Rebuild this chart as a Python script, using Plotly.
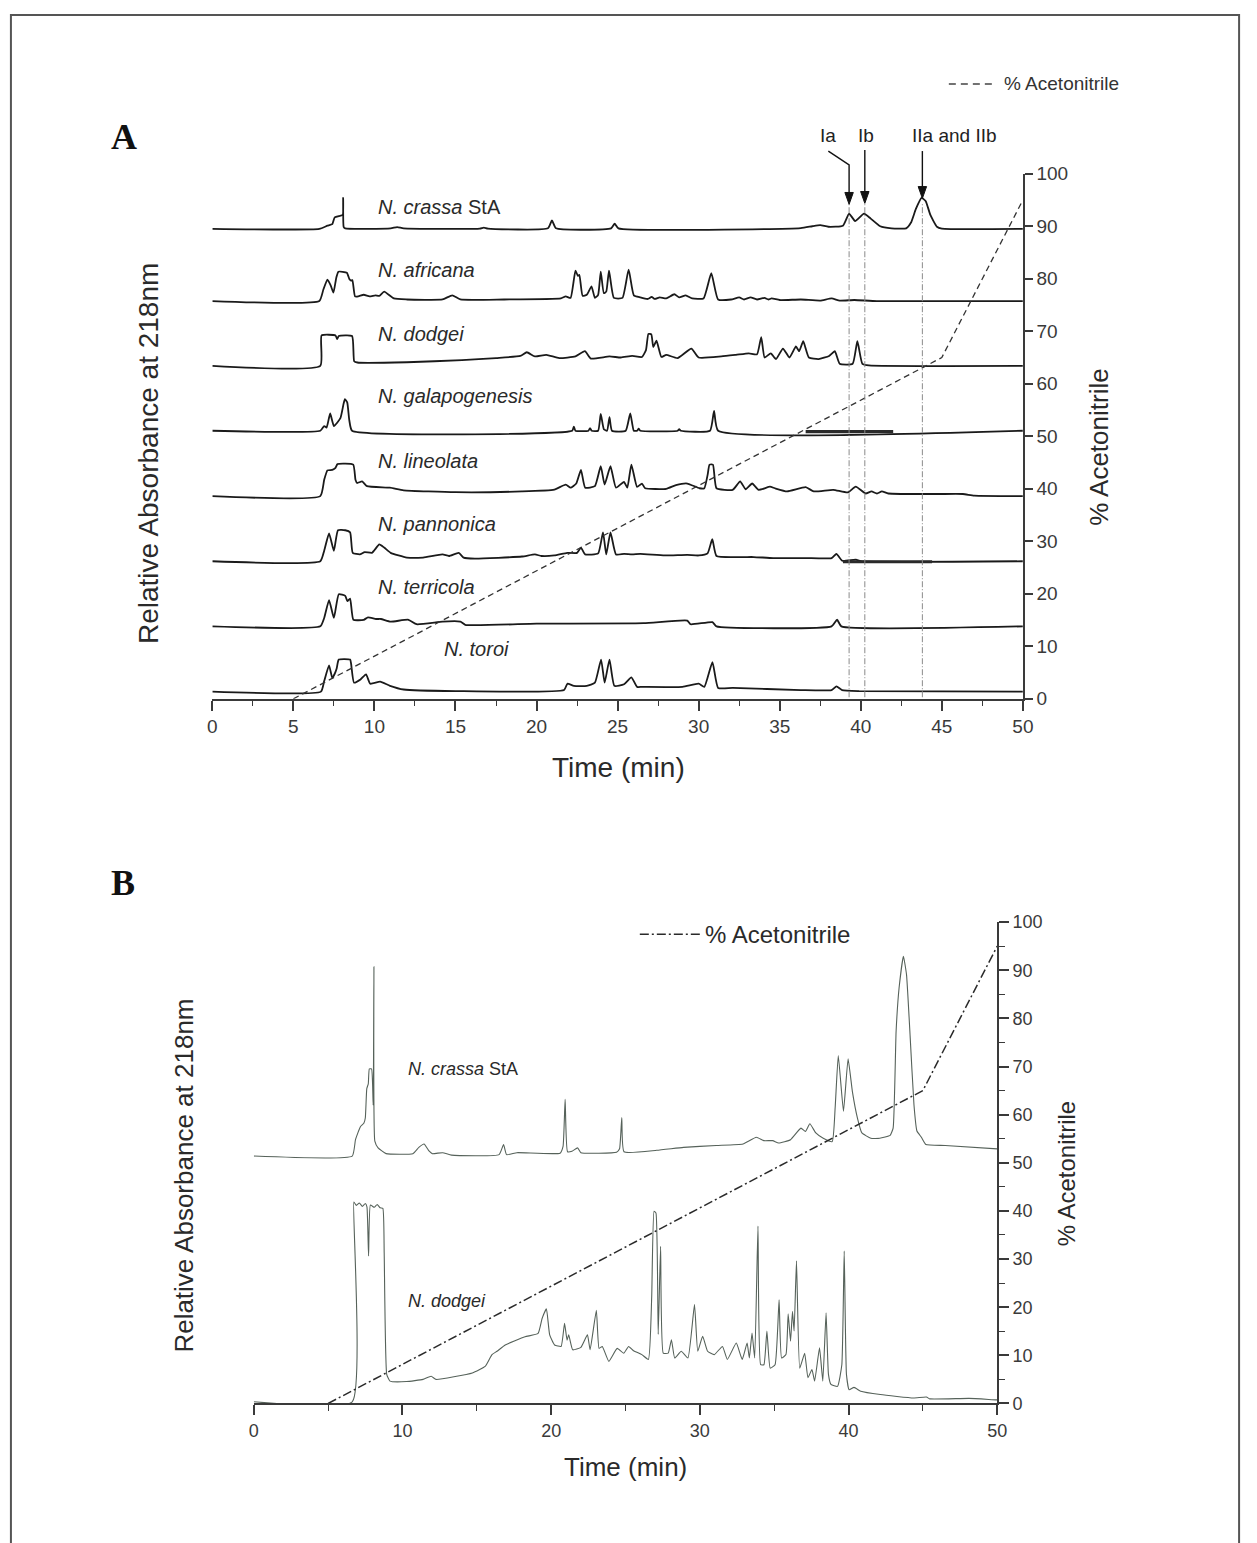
import plotly.graph_objects as go

W, H = 1257, 1543

# ---------------- Panel A: stacked chromatograms (time min, relative absorbance) ----------------
SPECIES_A = ["<i>N. crassa</i> StA", "<i>N. africana</i>", "<i>N. dodgei</i>", "<i>N. galapogenesis</i>",
             "<i>N. lineolata</i>", "<i>N. pannonica</i>", "<i>N. terricola</i>", "<i>N. toroi</i>"]
OFFSETS_A = [89.5, 75.75, 63.4, 51.05, 38.6, 26.2, 13.8, 1.37]

CRASSA_A = [(0, 0), (6.6, 0), (7.1, 0.6), (7.4, 0.9), (7.55, 2.2), (7.9, 2.5), (8.05, 2.7), (8.07, 5.9),
            (8.1, 0.4), (8.2, 0.1), (11.0, 0.1), (11.4, 0.35), (11.8, 0.1), (16.5, 0.05), (16.75, 0.25),
            (17.0, 0.05), (20.7, 0.1), (20.95, 1.6), (21.2, 0.1), (24.6, 0.1), (24.82, 1.0), (25.05, 0.1),
            (36.3, 0.15), (37.0, 0.5), (37.5, 0.7), (38.0, 0.4), (38.9, 0.6), (39.28, 2.9), (39.65, 1.5),
            (40.2, 2.9), (40.6, 2.0), (41.2, 0.5), (41.9, 0.1), (42.8, 0.1), (43.1, 1.2), (43.4, 3.8),
            (43.75, 5.9), (44.0, 5.3), (44.3, 2.6), (44.7, 0.4), (45.0, 0.05), (50, 0)]

AFRICANA_A = [(0, 0), (6.6, 0), (6.85, 2.2), (7.1, 4.1), (7.3, 3.0), (7.47, 1.6), (7.65, 4.5), (7.78, 5.6),
              (8.3, 5.4), (8.45, 4.2), (8.55, 3.9), (8.64, 4.0), (8.8, 0.9), (9.0, 0.9), (9.34, 1.2),
              (9.7, 0.9), (10.06, 1.1), (10.3, 1.0), (10.6, 1.8), (11.2, 0.5), (12.0, 0.3), (14.2, 0.3),
              (14.8, 1.1), (15.3, 0.3), (18.0, 0.3), (21.5, 0.5), (21.8, 0.9), (22.1, 0.6), (22.4, 5.8),
              (22.55, 4.8), (22.64, 5.0), (22.84, 1.0), (23.1, 1.2), (23.39, 2.8), (23.6, 0.6), (23.8, 1.2),
              (23.96, 5.6), (24.15, 1.5), (24.3, 1.8), (24.47, 5.8), (24.77, 0.6), (25.3, 0.6), (25.68, 6.0),
              (26.0, 1.1), (26.4, 0.7), (26.86, 0.4), (27.1, 0.8), (27.3, 0.4), (27.6, 0.7), (28.0, 0.5),
              (28.5, 1.3), (28.8, 0.7), (29.2, 1.1), (29.6, 0.5), (30.3, 0.5), (30.78, 5.3), (31.2, 0.3),
              (32.0, 0.3), (32.5, 0.7), (32.8, 0.3), (33.2, 0.7), (33.6, 0.3), (34.06, 0.6), (34.3, 0.3),
              (34.5, 0.5), (35.0, 0.2), (36.3, 0.3), (37.5, 0.1), (38.2, 0.5), (38.7, 0.1), (39.6, 0.2),
              (41.0, 0.0), (50, 0)]

DODGEI_A = [(0, 0), (6.66, 0), (6.74, 5.8), (7.6, 5.8), (7.7, 5.1), (7.8, 5.7), (8.62, 5.7), (8.75, 0.9),
            (8.95, 0.65), (12.0, 0.7), (15.4, 1.1), (17.5, 1.5), (19.0, 1.9), (19.4, 2.6), (19.9, 1.8),
            (20.6, 2.1), (21.4, 1.5), (22.4, 1.8), (22.98, 2.8), (23.35, 1.4), (24.5, 1.8), (25.2, 1.6),
            (25.9, 1.9), (26.5, 1.7), (26.75, 3.0), (26.9, 6.1), (27.08, 6.0), (27.2, 3.6), (27.4, 4.8),
            (27.7, 1.7), (28.0, 2.1), (28.7, 1.5), (29.55, 3.3), (30.0, 1.6), (31.4, 1.8), (32.3, 2.1),
            (33.1, 2.4), (33.6, 2.2), (33.86, 5.5), (34.07, 1.6), (34.45, 2.4), (34.77, 1.3), (35.2, 3.3),
            (35.6, 1.6), (36.0, 3.7), (36.2, 2.8), (36.45, 4.7), (36.8, 1.6), (37.4, 1.3), (38.05, 1.9),
            (38.4, 2.8), (38.7, 0.4), (39.5, 0.4), (39.79, 4.7), (40.1, 0.4), (40.5, 0.1), (50, 0)]

GALAP_A = [(0, 0), (6.66, 0), (6.9, 0.9), (7.05, 0.6), (7.27, 3.3), (7.5, 0.9), (7.9, 2.4), (8.1, 5.2),
           (8.18, 6.0), (8.32, 5.4), (8.45, 2.0), (8.62, 0), (22.2, 0), (22.3, 0.8), (22.4, 0), (23.2, 0),
           (23.3, 0.5), (23.4, 0), (23.8, 0), (23.96, 3.2), (24.15, 0.3), (24.35, 0), (24.5, 2.6),
           (24.65, 0), (25.5, 0), (25.78, 3.3), (26.0, 0), (26.2, 0), (26.3, 0.4), (26.4, 0), (28.7, 0),
           (28.8, 0.3), (28.9, 0), (30.7, 0), (30.95, 3.8), (31.2, 0), (50, 0)]
GALAP_SEG_A = [(36.6, -0.15), (42.0, -0.15)]

LINEOLATA_A = [(0, 0), (6.66, 0), (6.9, 3.1), (7.1, 4.9), (7.4, 5.0), (7.6, 5.4), (7.72, 6.1), (8.69, 6.0),
               (8.83, 3.1), (8.93, 2.5), (9.24, 2.8), (9.54, 1.9), (10.96, 1.6), (11.8, 1.1), (15.0, 0.75),
               (19.1, 0.9), (21.1, 1.25), (21.8, 2.2), (22.1, 1.6), (22.45, 2.4), (22.74, 5.0), (23.0, 1.6),
               (23.6, 1.9), (23.96, 5.7), (24.2, 2.2), (24.56, 5.7), (24.9, 1.6), (25.39, 2.7), (25.6, 1.6),
               (25.85, 6.0), (26.2, 1.75), (26.5, 2.4), (26.7, 1.5), (28.0, 1.4), (28.6, 2.1), (29.3, 2.4),
               (30.05, 1.5), (30.35, 1.5), (30.55, 4.0), (30.67, 6.0), (30.88, 6.0), (31.1, 1.5), (32.1, 1.2),
               (32.56, 2.8), (32.9, 1.3), (33.3, 2.4), (33.7, 1.2), (34.4, 1.8), (34.7, 1.5), (35.45, 0.9),
               (36.6, 1.7), (37.1, 0.9), (38.3, 1.2), (39.2, 0.7), (39.69, 1.8), (40.3, 0.5), (40.66, 0.9),
               (41.0, 0.5), (41.3, 0.9), (41.7, 0.5), (44.7, 0.4), (46.3, 0.4), (47.0, 0.1), (50, 0)]

PANNONICA_A = [(0, 0), (6.66, 0), (6.9, 2.0), (7.2, 5.3), (7.5, 2.0), (7.75, 5.9), (8.2, 5.9), (8.5, 5.5),
               (8.66, 1.6), (9.1, 1.3), (9.4, 1.75), (9.85, 1.6), (10.3, 3.2), (10.6, 2.6), (11.0, 1.6),
               (12.0, 0.7), (13.0, 0.7), (14.2, 1.3), (14.6, 1.0), (15.2, 1.6), (15.5, 0.7), (16.2, 0.5),
               (19.1, 0.9), (19.9, 1.3), (20.3, 1.0), (21.1, 1.1), (21.9, 1.6), (22.5, 1.6), (22.74, 2.6),
               (23.0, 1.3), (23.8, 1.5), (24.1, 5.5), (24.3, 1.3), (24.56, 5.5), (24.9, 1.3), (25.4, 1.4),
               (25.9, 1.3), (26.4, 1.4), (27.9, 1.1), (29.3, 1.2), (30.0, 1.1), (30.55, 1.5), (30.84, 4.2),
               (31.1, 1.0), (32.6, 0.8), (33.4, 0.8), (34.6, 0.6), (36.6, 0.6), (38.2, 0.6), (38.5, 1.4),
               (38.85, 0.1), (39.7, 0.3), (40.0, 0), (50, 0)]
PANNONICA_SEG_A = [(38.9, -0.1), (44.4, -0.1)]

TERRICOLA_A = [(0, 0), (6.66, 0), (6.9, 1.6), (7.2, 5.0), (7.5, 1.6), (7.8, 6.1), (8.2, 5.8), (8.33, 4.8),
               (8.5, 5.3), (8.7, 1.25), (9.34, 1.25), (9.6, 1.7), (10.1, 1.4), (10.4, 1.4), (11.0, 0.9),
               (12.1, 1.25), (12.6, 0.4), (14.2, 0.9), (15.3, 0.9), (15.6, 0.3), (20.0, 0.5), (26.6, 0.6),
               (29.3, 1.1), (29.5, 0.4), (30.85, 0.8), (31.1, 0), (38.2, 0), (38.54, 1.25), (38.8, 0), (50, 0)]

TOROI_A = [(0, 0), (6.7, 0), (6.9, 2.0), (7.2, 5.0), (7.4, 2.6), (7.55, 3.4), (7.67, 4.4), (7.8, 6.1),
           (8.5, 6.1), (8.56, 5.3), (8.74, 1.7), (9.14, 2.3), (9.48, 3.3), (9.74, 1.5), (10.35, 1.9),
           (10.96, 1.1), (11.8, 0.4), (15.0, 0.1), (21.7, 0.3), (21.9, 1.5), (22.3, 1.1), (23.1, 1.1),
           (23.6, 1.7), (23.98, 6.1), (24.2, 1.7), (24.5, 6.1), (24.8, 1.1), (25.4, 1.4), (25.85, 2.7),
           (26.2, 0.9), (26.5, 0.9), (29.0, 0.9), (30.0, 1.5), (30.35, 0.9), (30.85, 5.6), (31.2, 0.7),
           (32.1, 0.7), (36.3, 0.3), (38.2, 0.3), (38.5, 1.0), (38.85, 0.3), (39.9, 0.1), (50, 0)]

TRACES_A = [CRASSA_A, AFRICANA_A, DODGEI_A, GALAP_A, LINEOLATA_A, PANNONICA_A, TERRICOLA_A, TOROI_A]
LABEL_X_A = [376, 376, 376, 376, 376, 376, 376, 443]          # px, left edge of species label
LABEL_Y_A = [200, 264, 328, 391, 457, 521, 585, 648]          # px, vertical centre of label

# ---------------- Panel B: two chromatograms at larger scale ----------------
SPECIES_B = ["<i>N. crassa</i> StA", "<i>N. dodgei</i>"]
OFFSETS_B = [51.4, 0.35]

CRASSA_B = [(0, 0), (6.62, 0), (6.84, 3.4), (7.17, 6.1), (7.4, 6.8), (7.5, 7.9), (7.6, 14.0), (7.7, 15.0),
            (7.77, 18.1), (7.92, 18.1), (8.03, 10.6), (8.08, 39.4), (8.14, 3.1), (8.36, 1.7), (8.9, 0.5),
            (10.7, 0.5), (11.1, 1.8), (11.45, 2.5), (11.8, 1.0), (12.0, 0.5), (12.7, 0.7), (13.3, 0.2),
            (16.5, 0.3), (16.8, 2.4), (17.0, 0.3), (17.7, 0.7), (20.6, 0.6), (20.8, 2.0), (20.94, 11.8),
            (21.1, 0.9), (21.4, 1.0), (21.78, 1.7), (22.0, 0.7), (24.4, 0.8), (24.6, 1.5), (24.75, 8.0),
            (24.9, 0.9), (27.1, 1.2), (28.9, 1.8), (31.1, 2.2), (32.9, 2.5), (33.8, 3.9), (34.3, 3.2),
            (34.9, 3.2), (35.3, 2.7), (36.1, 3.4), (36.8, 5.8), (37.1, 5.1), (37.4, 6.7), (37.8, 4.8),
            (38.3, 3.7), (38.9, 3.0), (39.1, 10.0), (39.31, 20.9), (39.66, 9.3), (39.97, 20.2),
            (40.26, 13.4), (40.6, 7.9), (40.9, 4.8), (41.5, 3.7), (42.1, 3.7), (42.8, 4.3), (43.0, 5.8),
            (43.2, 25.9), (43.4, 34.9), (43.69, 41.5), (43.9, 37.7), (44.15, 24.5), (44.4, 10.7),
            (44.6, 5.2), (44.9, 3.9), (45.2, 2.4), (46.5, 2.2), (50, 1.5)]

DODGEI_B = [(0, 0), (6.62, 0), (6.73, 41.5), (6.9, 40.8), (7.1, 41.3), (7.3, 40.6), (7.5, 41.2), (7.61, 40.5),
            (7.72, 30.3), (7.84, 40.9), (8.1, 40.4), (8.3, 41.0), (8.5, 40.3), (8.68, 40.2), (8.77, 30.9),
            (8.94, 5.7), (9.16, 4.3), (10.27, 4.2), (11.38, 4.65), (11.93, 5.3), (12.26, 4.65), (14.7, 6.0),
            (15.58, 7.4), (16.02, 9.8), (16.36, 10.5), (16.91, 11.8), (18.24, 13.5), (19.12, 14.2),
            (19.39, 17.3), (19.68, 19.3), (19.9, 13.9), (20.23, 11.8), (20.67, 11.5), (20.9, 16.3),
            (21.07, 12.8), (21.18, 13.9), (21.45, 10.8), (22.0, 11.3), (22.44, 13.9), (22.62, 10.8),
            (23.04, 19.0), (23.22, 11.1), (23.44, 11.5), (23.88, 8.4), (24.44, 11.1), (24.88, 10.1),
            (25.21, 11.5), (25.54, 10.6), (26.1, 9.8), (26.54, 8.8), (26.76, 21.6), (26.92, 39.6),
            (27.05, 39.2), (27.2, 14.0), (27.36, 32.3), (27.54, 10.1), (27.87, 10.1), (28.09, 12.9),
            (28.31, 9.1), (28.75, 10.5), (29.2, 9.1), (29.64, 20.2), (29.86, 10.5), (30.19, 13.6),
            (30.52, 10.5), (30.97, 9.8), (31.52, 11.5), (31.85, 8.8), (32.45, 12.2), (32.85, 8.8),
            (33.18, 12.2), (33.33, 9.1), (33.51, 14.3), (33.69, 9.1), (33.91, 36.5), (34.09, 7.7),
            (34.31, 7.7), (34.51, 14.7), (34.73, 7.0), (35.06, 7.7), (35.33, 21.2), (35.5, 9.1),
            (35.79, 9.8), (35.94, 18.3), (36.1, 12.6), (36.23, 18.8), (36.34, 14.7), (36.5, 29.3),
            (36.72, 7.0), (37.05, 10.1), (37.27, 5.0), (37.54, 6.7), (37.72, 4.3), (38.05, 11.2),
            (38.27, 4.3), (38.49, 18.5), (38.65, 5.7), (38.82, 3.6), (39.26, 3.2), (39.55, 7.7),
            (39.71, 31.3), (39.86, 5.7), (40.04, 2.5), (40.37, 3.0), (40.82, 2.2), (42.14, 1.5),
            (44.36, 0.8), (45.24, 1.0), (45.46, 0.6), (48.1, 0.7), (49.9, 0.4), (50, 0.4)]

TRACES_B = [CRASSA_B, DODGEI_B]
LABEL_X_B = [406, 406]
LABEL_Y_B = [1074, 1309]

# ---------------- Solvent gradient (% acetonitrile) ----------------
GRAD_TIME = [5, 45, 50]
GRAD_PCT = [0, 65, 95]

# ---------------- Marked peaks in panel A ----------------
PEAK_NAMES = ["Ia", "Ib", "IIa and IIb"]
PEAK_TIMES = [39.28, 40.25, 43.8]
PEAK_LABEL_PX = [834, 872, 962]

FONT = "Liberation Sans, Arial, sans-serif"
INK = "#222222"
AXIS = "#3a3a3a"


def fx(p):
    return p / W


def fy(p):
    return 1 - p / H


fig = go.Figure()

# Panel A traces
for pts, off in zip(TRACES_A, OFFSETS_A):
    fig.add_trace(go.Scatter(x=[p[0] for p in pts], y=[p[1] + off for p in pts], mode="lines",
                             line=dict(color="#1a1a1a", width=1.8, shape="spline", smoothing=0.45),
                             xaxis="x", yaxis="y", showlegend=False, hoverinfo="skip"))
for seg, off in ((GALAP_SEG_A, OFFSETS_A[3]), (PANNONICA_SEG_A, OFFSETS_A[5])):
    fig.add_trace(go.Scatter(x=[p[0] for p in seg], y=[p[1] + off for p in seg], mode="lines",
                             line=dict(color="#2a2a2a", width=3.2), xaxis="x", yaxis="y",
                             showlegend=False, hoverinfo="skip"))
fig.add_trace(go.Scatter(x=GRAD_TIME, y=GRAD_PCT, mode="lines", name="% Acetonitrile",
                         line=dict(color="#333333", width=1.3, dash="6px,4px"),
                         xaxis="x", yaxis="y2", showlegend=False, hoverinfo="skip"))

# Panel B traces
for pts, off in zip(TRACES_B, OFFSETS_B):
    fig.add_trace(go.Scatter(x=[p[0] for p in pts], y=[p[1] + off for p in pts], mode="lines",
                             line=dict(color="#56625a", width=1.1, shape="spline", smoothing=0.4),
                             xaxis="x2", yaxis="y3", showlegend=False, hoverinfo="skip"))
fig.add_trace(go.Scatter(x=GRAD_TIME, y=GRAD_PCT, mode="lines", name="% Acetonitrile",
                         line=dict(color="#2a2a2a", width=1.5, dash="9px,3px,2px,3px"),
                         xaxis="x2", yaxis="y4", showlegend=False, hoverinfo="skip"))

tickfont_a = dict(family=FONT, size=19, color=AXIS)
tickfont_b = dict(family=FONT, size=18, color=AXIS)

layout = dict(
    width=W, height=H, autosize=False,
    margin=dict(l=0, r=0, t=0, b=0),
    paper_bgcolor="white", plot_bgcolor="rgba(0,0,0,0)",
    font=dict(family=FONT, color=INK),
    showlegend=False,
    xaxis=dict(domain=[fx(210), fx(1031)], range=[0, 50], anchor="y", showgrid=False, zeroline=False,
               showline=True, linecolor=AXIS, linewidth=1.5, ticks="outside", ticklen=10, tickwidth=1.5,
               tickcolor=AXIS, tickvals=list(range(0, 51, 5)), tickfont=tickfont_a,
               minor=dict(dtick=2.5, ticks="outside", ticklen=5, tickwidth=1.3, tickcolor=AXIS)),
    yaxis=dict(domain=[fy(698.3), fy(166)], range=[0, 100], visible=False, fixedrange=True),
    yaxis2=dict(overlaying="y", anchor="x", side="right", range=[0, 100], showgrid=False, zeroline=False,
                showline=True, linecolor=AXIS, linewidth=1.5, ticks="outside", ticklen=8, tickwidth=1.5,
                tickcolor=AXIS, dtick=10, tickfont=tickfont_a),
    xaxis2=dict(domain=[fx(252), fx(1005)], range=[0, 50], anchor="y3", showgrid=False, zeroline=False,
                showline=True, linecolor=AXIS, linewidth=1.5, ticks="outside", ticklen=10, tickwidth=1.5,
                tickcolor=AXIS, dtick=10, tickfont=tickfont_b,
                minor=dict(dtick=5, ticks="outside", ticklen=6, tickwidth=1.3, tickcolor=AXIS)),
    yaxis3=dict(domain=[fy(1412.7), fy(924.7)], range=[0, 100], visible=False, fixedrange=True),
    yaxis4=dict(overlaying="y3", anchor="x2", side="right", range=[0, 100], showgrid=False, zeroline=False,
                showline=True, linecolor=AXIS, linewidth=1.5, ticks="outside", ticklen=10, tickwidth=1.5,
                tickcolor=AXIS, dtick=10, tickfont=tickfont_b,
                minor=dict(dtick=5, ticks="outside", ticklen=6, tickwidth=1.3, tickcolor=AXIS)),
)
fig.update_layout(**layout)

ann = []


def text(x, y, s, size, xanchor="center", angle=0, family=FONT, color=INK):
    ann.append(dict(x=fx(x), y=fy(y), xref="paper", yref="paper", text=s, showarrow=False,
                    xanchor=xanchor, yanchor="middle", textangle=angle,
                    font=dict(family=family, size=size, color=color)))


# panel letters
text(121, 129, "<b>A</b>", 36, family="Liberation Serif, Times New Roman, serif", color="#111")
text(120, 885, "<b>B</b>", 36, family="Liberation Serif, Times New Roman, serif", color="#111")

# species labels
for lab, lx, ly in zip(SPECIES_A, LABEL_X_A, LABEL_Y_A):
    text(lx, ly, lab, 20, xanchor="left", color="#2a2a2a")
for lab, lx, ly in zip(SPECIES_B, LABEL_X_B, LABEL_Y_B):
    text(lx, ly, lab, 18, xanchor="left", color="#2a2a2a")

# axis titles
text(621, 768, "Time (min)", 28, color="#2a2a2a")
text(146, 450, "Relative Absorbance at 218nm", 28, angle=-90, color="#2a2a2a")
text(1108, 443, "% Acetonitrile", 26, angle=-90, color="#2a2a2a")
text(628, 1477, "Time (min)", 26, color="#2a2a2a")
text(181, 1182, "Relative Absorbance at 218nm", 26, angle=-90, color="#2a2a2a")
text(1076, 1180, "% Acetonitrile", 24, angle=-90, color="#2a2a2a")

# gradient keys
text(1010, 75, "% Acetonitrile", 19, xanchor="left", color="#333")
text(707, 937, "% Acetonitrile", 24, xanchor="left", color="#2a2a2a")

# peak names
for name, px in zip(PEAK_NAMES, PEAK_LABEL_PX):
    text(px, 127, name, 19, color="#222")

fig.update_layout(annotations=ann)

shapes = []
# outer frame
shapes.append(dict(type="rect", xref="paper", yref="paper", x0=fx(6), x1=fx(1250), y0=fy(1560), y1=fy(5),
                   line=dict(color="#555", width=2), fillcolor="rgba(0,0,0,0)", layer="above"))
# key line samples
shapes.append(dict(type="line", xref="paper", yref="paper", x0=fx(956), x1=fx(1002), y0=fy(75), y1=fy(75),
                   line=dict(color="#444", width=1.3, dash="7px,5px")))
shapes.append(dict(type="line", xref="paper", yref="paper", x0=fx(643), x1=fx(705), y0=fy(937), y1=fy(937),
                   line=dict(color="#2a2a2a", width=1.5, dash="9px,3px,2px,3px")))

# dash-dot guides under marked peaks
for t in PEAK_TIMES:
    shapes.append(dict(type="line", xref="x", yref="y2", x0=t, x1=t, y0=0.3, y1=94.3,
                       line=dict(color="#8a8a8a", width=1, dash="6px,2px,1px,2px")))

# arrows to the marked peaks (x in minutes, y in page position)
ia, ib, ii = PEAK_TIMES
arrow_paths = [
    f"M {ia - 1.28},{fy(143)} L {ia},{fy(157)} L {ia},{fy(186)}",
    f"M {ib},{fy(142)} L {ib},{fy(186)}",
    f"M {ii},{fy(143)} L {ii},{fy(181)}",
]
for p in arrow_paths:
    shapes.append(dict(type="path", xref="x", yref="paper", path=p, line=dict(color="#111", width=1.4)))
for t, tip in ((ia, 197), (ib, 196), (ii, 191)):
    hw = 0.26
    shapes.append(dict(type="path", xref="x", yref="paper",
                       path=f"M {t - hw},{fy(tip - 12)} L {t + hw},{fy(tip - 12)} L {t},{fy(tip)} Z",
                       fillcolor="#111", line=dict(color="#111", width=1)))

fig.update_layout(shapes=shapes)

# page body margin removed so the figure sits flush in the window
fig.write_html("out.html", post_script="document.body.style.margin='0';")
